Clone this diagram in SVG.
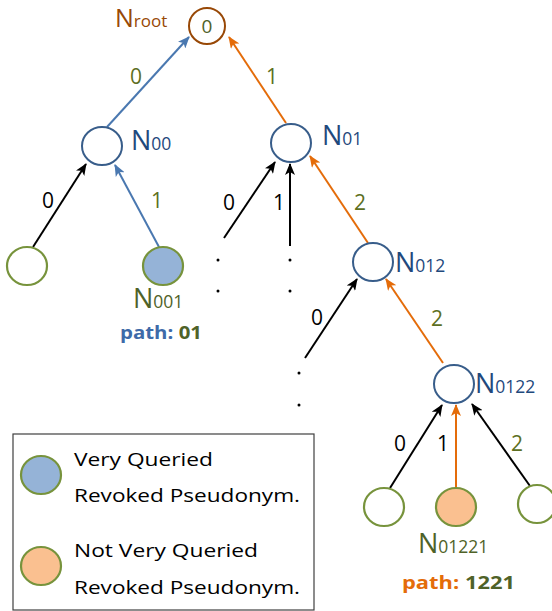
<svg xmlns="http://www.w3.org/2000/svg" width="552" height="611" viewBox="0 0 552 611">
<style>
text{font-family:"Open Sans","Liberation Sans",sans-serif}
.node{fill:#fff;stroke:#385d8a;stroke-width:2}
.leaf{fill:#fff;stroke:#77933c;stroke-width:2.2}
.blue{fill:#95b3d7}
.orange{fill:#fac090}
.eb{stroke:#000;stroke-width:2;fill:none}
.eblue{stroke:#4a78b0;stroke-width:2;fill:none}
.eor{stroke:#e46c0a;stroke-width:2;fill:none}
.lbl{font-size:21px;text-anchor:middle}
.olive{fill:#5d6f22}
.blk{fill:#000}
.nb{fill:#1f497d}
.ng{fill:#4f6228}
.big{font-size:27px}
.sub{font-size:17.5px}
.leg{font-size:19px;fill:#000}
.path{font-size:17px;font-weight:bold}
</style>
<defs>
<marker id="ab" markerWidth="12" markerHeight="10" refX="11" refY="5" orient="auto" markerUnits="userSpaceOnUse"><path d="M0,0 L12,5 L0,10 L3,5 z" fill="#000"/></marker>
<marker id="abl" markerWidth="12" markerHeight="10" refX="11" refY="5" orient="auto" markerUnits="userSpaceOnUse"><path d="M0,0 L12,5 L0,10 L3,5 z" fill="#4a78b0"/></marker>
<marker id="aor" markerWidth="12" markerHeight="10" refX="11" refY="5" orient="auto" markerUnits="userSpaceOnUse"><path d="M0,0 L12,5 L0,10 L3,5 z" fill="#e46c0a"/></marker>
</defs>

<g id="connectors">
<line class="eblue" x1="107" y1="127" x2="189" y2="37" marker-end="url(#abl)"/>
<line class="eor" x1="286" y1="123" x2="229" y2="37" marker-end="url(#aor)"/>
<line class="eb" x1="33" y1="247" x2="86" y2="164" marker-end="url(#ab)"/>
<line class="eblue" x1="159" y1="247" x2="115" y2="165" marker-end="url(#abl)"/>
<line class="eb" x1="224" y1="238" x2="275" y2="162" marker-end="url(#ab)"/>
<line class="eb" x1="290" y1="246" x2="290" y2="164" marker-end="url(#ab)"/>
<line class="eor" x1="368" y1="243" x2="310" y2="156" marker-end="url(#aor)"/>
<line class="eb" x1="305" y1="358" x2="357" y2="279" marker-end="url(#ab)"/>
<line class="eor" x1="443" y1="363" x2="386" y2="279" marker-end="url(#aor)"/>
<line class="eb" x1="390" y1="488" x2="442" y2="405" marker-end="url(#ab)"/>
<line class="eor" x1="456" y1="488" x2="456" y2="405" marker-end="url(#aor)"/>
<line class="eb" x1="530" y1="486" x2="472" y2="404" marker-end="url(#ab)"/>
<text class="lbl olive" x="136" y="84">0</text>
<text class="lbl olive" x="272" y="84">1</text>
<text class="lbl blk" x="48" y="208">0</text>
<text class="lbl olive" x="157" y="208">1</text>
<text class="lbl blk" x="229" y="210">0</text>
<text class="lbl blk" x="279" y="210">1</text>
<text class="lbl olive" x="360" y="210">2</text>
<text class="lbl blk" x="317" y="325">0</text>
<text class="lbl olive" x="437" y="326">2</text>
<text class="lbl blk" x="400" y="451">0</text>
<text class="lbl blk" x="443" y="451">1</text>
<text class="lbl olive" x="517" y="451">2</text>
<circle cx="218" cy="260" r="1.5" fill="#000"/>
<circle cx="218" cy="291" r="1.5" fill="#000"/>
<circle cx="290" cy="260" r="1.5" fill="#000"/>
<circle cx="290" cy="291" r="1.5" fill="#000"/>
<circle cx="299" cy="373" r="1.5" fill="#000"/>
<circle cx="299" cy="405" r="1.5" fill="#000"/>
</g>

<g id="root">
<circle cx="207" cy="26" r="18" fill="#fff" stroke="#984806" stroke-width="2"/>
<text x="207" y="33" font-size="19" text-anchor="middle" fill="#4f6228">0</text>
<text x="115" y="27" fill="#984806"><tspan font-size="25">N</tspan><tspan font-size="17">root</tspan></text>
</g>

<g id="N00">
<ellipse class="node" cx="102" cy="146" rx="20" ry="19"/>
<text class="nb" x="131" y="150"><tspan class="big">N</tspan><tspan class="sub">00</tspan></text>
</g>

<g id="N01">
<ellipse class="node" cx="291" cy="143" rx="20" ry="19"/>
<text class="nb" x="322" y="145"><tspan class="big">N</tspan><tspan class="sub">01</tspan></text>
</g>

<g id="N012">
<ellipse class="node" cx="373" cy="262" rx="20" ry="19"/>
<text class="nb" x="395" y="272"><tspan class="big">N</tspan><tspan class="sub">012</tspan></text>
</g>

<g id="N0122">
<ellipse class="node" cx="454" cy="384" rx="20" ry="19"/>
<text class="nb" x="475" y="393"><tspan class="big">N</tspan><tspan class="sub">0122</tspan></text>
</g>

<g id="leaf000">
<ellipse class="leaf" cx="27" cy="266" rx="20" ry="19"/>
</g>

<g id="N001">
<ellipse class="leaf blue" cx="163" cy="266" rx="20" ry="19"/>
<text class="ng" x="133" y="308"><tspan class="big">N</tspan><tspan class="sub">001</tspan></text>
<text class="path" x="120" y="339" textLength="82" lengthAdjust="spacingAndGlyphs"><tspan fill="#3e6aa8">path: </tspan><tspan fill="#4f6228">01</tspan></text>
</g>

<g id="leaf01220">
<ellipse class="leaf" cx="384" cy="507" rx="20" ry="19"/>
</g>

<g id="N01221">
<ellipse class="leaf orange" cx="456" cy="507" rx="20" ry="19"/>
<text class="ng" x="418" y="553"><tspan class="big">N</tspan><tspan class="sub">01221</tspan></text>
<text class="path" x="402" y="589" textLength="113" lengthAdjust="spacingAndGlyphs"><tspan fill="#e46c0a">path: </tspan><tspan fill="#4f6228">1221</tspan></text>
</g>

<g id="leaf01222">
<ellipse class="leaf" cx="537" cy="504" rx="19" ry="19"/>
</g>

<g id="legend">
<rect x="13" y="434" width="301" height="176" fill="#fff" stroke="#404040" stroke-width="1.2"/>
<ellipse class="leaf blue" cx="41" cy="475" rx="20" ry="19"/>
<ellipse class="leaf orange" cx="41" cy="566" rx="20" ry="19"/>
<text class="leg" x="74" y="466" textLength="139" lengthAdjust="spacingAndGlyphs">Very Queried</text>
<text class="leg" x="74" y="502" textLength="226" lengthAdjust="spacingAndGlyphs">Revoked Pseudonym.</text>
<text class="leg" x="74" y="557" textLength="184" lengthAdjust="spacingAndGlyphs">Not Very Queried</text>
<text class="leg" x="74" y="594" textLength="226" lengthAdjust="spacingAndGlyphs">Revoked Pseudonym.</text>
</g>
</svg>
